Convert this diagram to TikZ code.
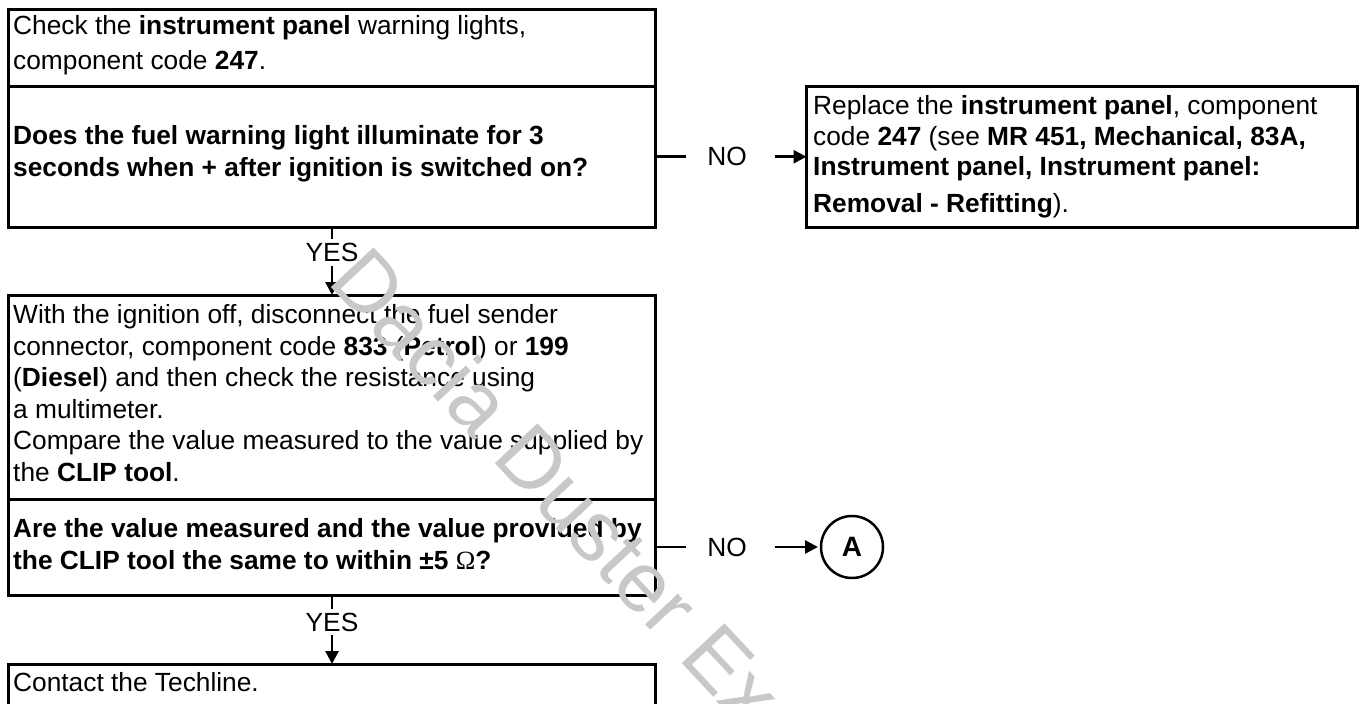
\documentclass[tikz,border=0pt]{standalone}
\usepackage{fontspec}
\setmainfont{Liberation Sans}
\newfontfamily\omegafont{Liberation Serif}
\usetikzlibrary{arrows.meta}
\definecolor{wmgray}{RGB}{200,200,200}
\tikzset{
  box/.style={draw, line width=3pt, rectangle, inner sep=0pt, outer sep=0pt, anchor=north west},
  txt/.style={anchor=base west, inner sep=0pt, font=\fontsize{26.3}{31.6}\selectfont},
  lbl/.style={inner sep=0pt, outer sep=0pt, font=\fontsize{26.3}{31.6}\selectfont},
  conn/.style={line width=2.7pt},
  arr/.style={line width=2.7pt, -{Triangle[length=13pt,width=13pt]}},
  wm/.style={anchor=base west, inner sep=0pt, rotate=-47, text=wmgray, font=\fontsize{85}{85}\selectfont}
}
\begin{document}
\begin{tikzpicture}[x=1pt,y=-1pt]
\useasboundingbox (0,0) rectangle (1360,704);
\clip (0,0) rectangle (1360,704);
% boxes
\node[box, minimum width=647pt, minimum height=77.5pt] (b1) at (8.5,9) {};
\node[box, minimum width=647pt, minimum height=140.5pt] (b1q) at (8.5,86.5) {};
\node[box, minimum width=551pt, minimum height=140.5pt] (rb) at (806.5,86.5) {};
\node[box, minimum width=647pt, minimum height=204pt] (b2) at (8.5,295) {};
\node[box, minimum width=647pt, minimum height=96pt] (b2q) at (8.5,499) {};
\node[box, minimum width=647pt, minimum height=80pt] (b3) at (8.5,664) {};
\node[draw, circle, line width=2.5pt, minimum size=62pt, inner sep=0pt, outer sep=0pt,
      font=\fontsize{28}{28}\selectfont\bfseries] (A) at (852,547) {A};
% box 1 text
\node[txt] (t1a) at (13,34) {Check the \textbf{instrument panel} warning lights,};
\node[txt] (t1b) at (13,69) {component code \textbf{247}.};
\node[txt] (q1a) at (13,144) {\textbf{Does the fuel warning light illuminate for 3}};
\node[txt] (q1b) at (13,176) {\textbf{seconds when + after ignition is switched on?}};
% right box text
\node[txt] (r1) at (813,114) {Replace the \textbf{instrument panel}, component};
\node[txt] (r2) at (813,145) {code \textbf{247} (see \textbf{MR 451, Mechanical, 83A,}};
\node[txt] (r3) at (813,175) {\textbf{Instrument panel, Instrument panel:}};
\node[txt] (r4) at (813,212) {\textbf{Removal - Refitting}).};
% box 2 text
\node[txt] (t2a) at (13,323.5) {With the ignition off, disconnect the fuel sender};
\node[txt] (t2b) at (13,355) {connector, component code \textbf{833} (\textbf{Petrol}) or \textbf{199}};
\node[txt] (t2c) at (13,386.5) {(\textbf{Diesel}) and then check the resistance using};
\node[txt] (t2d) at (13,418) {a multimeter.};
\node[txt] (t2e) at (13,449.5) {Compare the value measured to the value supplied by};
\node[txt] (t2f) at (13,481) {the \textbf{CLIP tool}.};
\node[txt] (q2a) at (13,537) {\textbf{Are the value measured and the value provided by}};
\node[txt] (q2b) at (13,569) {\textbf{the CLIP tool the same to within ±5 }{\omegafont Ω}\textbf{?}};
% box 3 text
\node[txt] (t3a) at (13,691) {Contact the Techline.};
% labels
\node[lbl] (yes1) at (332,252) {YES};
\node[lbl] (yes2) at (332,622) {YES};
\node[lbl] (no1) at (727,156.75) {NO};
\node[lbl] (no2) at (727,547) {NO};
% connectors
\draw[conn] (b1q.south) -- ([yshift=4pt]yes1.north);
\draw[arr] ([yshift=-5pt]yes1.south) -- (b2.north);
\draw[conn] (b2q.south) -- ([yshift=4pt]yes2.north);
\draw[arr] ([yshift=-4pt]yes2.south) -- (b3.north);
\draw[conn] (b1q.east) -- ([xshift=-21pt]no1.west);
\draw[arr] ([xshift=28pt]no1.east) -- (rb.west);
\draw[conn] (b2q.east) -- ([xshift=-21pt]no2.west);
\draw[arr, shorten >=3pt] ([xshift=28pt]no2.east) -- (A.west);
% watermark
\node[wm] (wmark) at (326,282) {Dacia Duster Ex};
\end{tikzpicture}
\end{document}
